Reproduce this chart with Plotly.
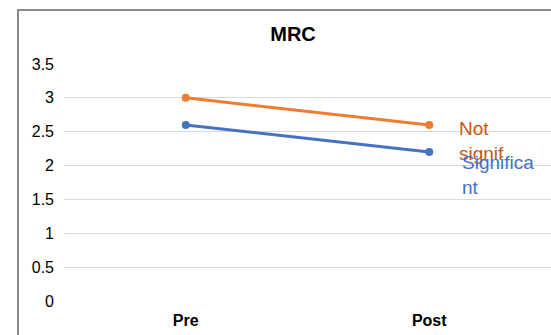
import plotly.graph_objects as go

# Chart data
categories = ["Pre", "Post"]
not_significant = [3.0, 2.6]
significant = [2.6, 2.2]
series_names = ["Not significant", "Significant"]
# Series labels as they wrap beside the last point
series_labels = ["Not<br>signif", "Significa<br>nt"]
y_ticks = [0, 0.5, 1, 1.5, 2, 2.5, 3, 3.5]
y_tick_text = ["0", "0.5", "1", "1.5", "2", "2.5", "3", "3.5"]

W, H = 551, 335
ML, MR, MT, MB = 64, 0, 64, 34
plot_w = W - ML - MR
plot_h = H - MT - MB

line_colors = ["#ED7D31", "#4472C4"]
label_colors = ["#C55A11", "#4472C4"]
label_dx = [28, 31]
label_dy = [9, 2]

fig = go.Figure()
for vals, name, color in zip([not_significant, significant], series_names, line_colors):
    fig.add_trace(go.Scatter(
        x=categories, y=vals, name=name, mode="lines+markers",
        line=dict(color=color, width=3),
        marker=dict(color=color, size=8),
        showlegend=False,
    ))

for vals, text, color, dx, dy in zip([not_significant, significant], series_labels,
                                     label_colors, label_dx, label_dy):
    fig.add_annotation(
        x=categories[-1], y=vals[-1], text=text, showarrow=False,
        xanchor="left", yanchor="top", xshift=dx, yshift=dy, align="left",
        font=dict(family="Liberation Sans, Arial", size=19, color=color),
    )

# Chart-area border (left and top edges)
def px_x(p):
    return (p - ML) / plot_w

def px_y(p):
    return (H - MB - p) / plot_h

fig.add_shape(type="line", xref="paper", yref="paper",
              x0=px_x(18), x1=px_x(18), y0=px_y(10), y1=px_y(H + 5),
              line=dict(color="#8a8a8a", width=2))
fig.add_shape(type="line", xref="paper", yref="paper",
              x0=px_x(17), x1=px_x(W + 5), y0=px_y(10), y1=px_y(10),
              line=dict(color="#8a8a8a", width=2))

fig.update_layout(
    width=W, height=H,
    margin=dict(l=ML, r=MR, t=MT, b=MB),
    paper_bgcolor="white", plot_bgcolor="white",
    font=dict(family="Liberation Sans, Arial", color="#000000"),
    title=dict(text="<b>MRC</b>", x=293 / W, xanchor="center", xref="container",
               y=1 - 34 / H, yanchor="middle", yref="container",
               font=dict(size=20, color="#000000")),
    xaxis=dict(type="category", range=[-0.5, 1.5], showgrid=False,
               zeroline=False, showline=False, ticks="",
               tickfont=dict(size=16, family="Liberation Sans, Arial"),
               tickvals=categories, ticktext=[f"<b>{c}</b>" for c in categories],
               ticklabelstandoff=8),
    yaxis=dict(range=[0, 3.5], tickvals=y_ticks, ticktext=y_tick_text,
               showgrid=True, gridcolor="#d9d9d9", gridwidth=1,
               zeroline=False, showline=False, ticks="",
               tickfont=dict(size=16, family="Liberation Sans, Arial"),
               ticklabelstandoff=9),
)

fig.write_html("out.html")
